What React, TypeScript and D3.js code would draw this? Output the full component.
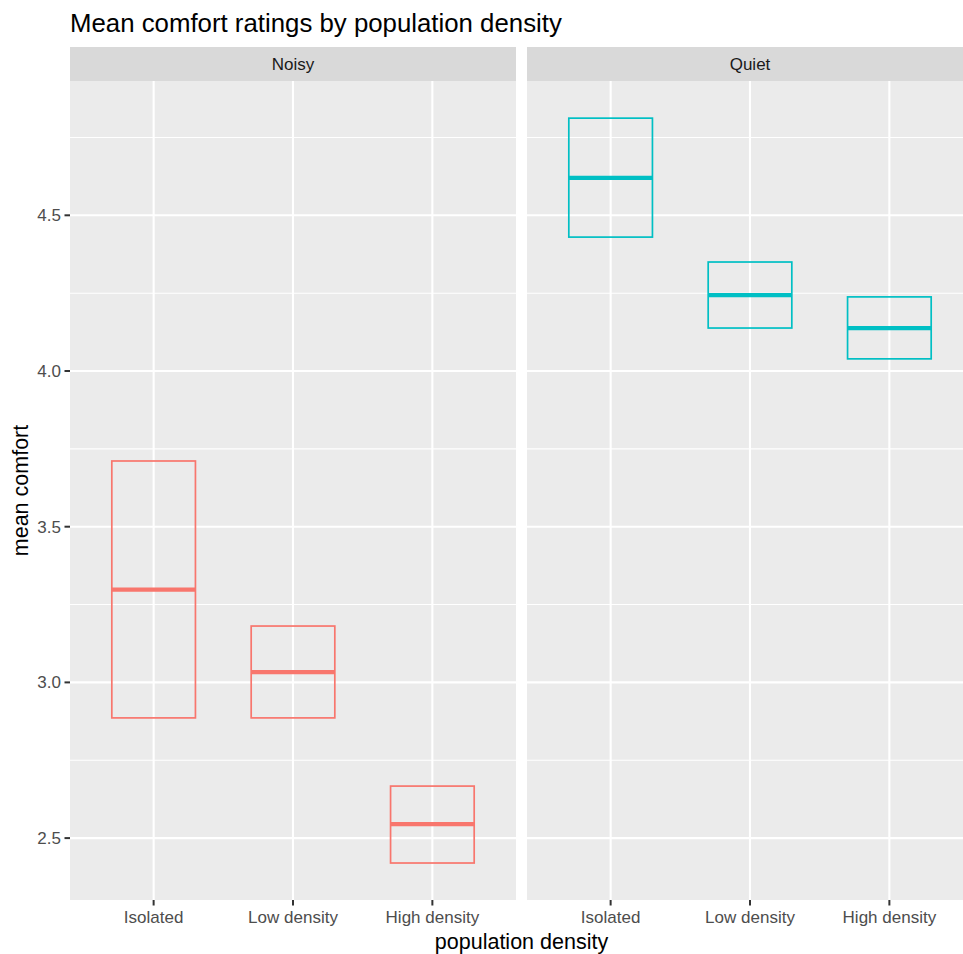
import React from "react";
import * as d3 from "d3";

const conditions = ["Noisy", "Quiet"];
const densities = ["Isolated", "Low density", "High density"];
const noisyMean = [3.298, 3.033, 2.545];
const noisyLower = [2.886, 2.886, 2.42];
const noisyUpper = [3.711, 3.181, 2.667];
const quietMean = [4.62, 4.244, 4.138];
const quietLower = [4.43, 4.138, 4.039];
const quietUpper = [4.812, 4.35, 4.238];
const colors = ["#F8766D", "#00BFC4"];
const yMajor = [2.5, 3.0, 3.5, 4.0, 4.5];
const yMinor = [2.75, 3.25, 3.75, 4.25, 4.75];

const W = 963;
const H = 954;
const FONT = "'Liberation Sans', Arial, Helvetica, sans-serif";

export default function App() {
  const panelTop = 81;
  const panelBottom = 900;
  const stripTop = 47;
  const panelW = 446;
  const panelLeft = [70, 527];
  const y = d3.scaleLinear().domain([2.3012, 4.9313]).range([panelBottom, panelTop]);
  const series = [
    { mean: noisyMean, lo: noisyLower, hi: noisyUpper },
    { mean: quietMean, lo: quietLower, hi: quietUpper },
  ];
  return (
    <svg width={W} height={H} style={{ position: "absolute", left: 0, top: 0, background: "#fff" }} fontFamily={FONT}>
      <text x={70} y={31.5} fontSize={25.8} fill="#000">Mean comfort ratings by population density</text>
      {conditions.map((c, pi) => {
        const x0 = panelLeft[pi];
        const x = d3.scalePoint<string>().domain(densities).range([x0, x0 + panelW]).padding(0.6);
        const bw = x.step() * 0.6;
        const s = series[pi];
        return (
          <g key={c}>
            <rect x={x0} y={stripTop} width={panelW} height={panelTop - stripTop} fill="#D9D9D9" />
            <text x={x0 + panelW / 2} y={69.5} textAnchor="middle" fontSize={17} fill="#1A1A1A">{c}</text>
            <rect x={x0} y={panelTop} width={panelW} height={panelBottom - panelTop} fill="#EBEBEB" />
            {yMinor.map((v) => (
              <line key={"mi" + v} x1={x0} x2={x0 + panelW} y1={y(v)} y2={y(v)} stroke="#fff" strokeWidth={1.05} />
            ))}
            {yMajor.map((v) => (
              <line key={"ma" + v} x1={x0} x2={x0 + panelW} y1={y(v)} y2={y(v)} stroke="#fff" strokeWidth={2.1} />
            ))}
            {densities.map((d) => (
              <line key={"vx" + d} x1={x(d)!} x2={x(d)!} y1={panelTop} y2={panelBottom} stroke="#fff" strokeWidth={2.1} />
            ))}
            {densities.map((d, i) => (
              <g key={"box" + d}>
                <rect x={x(d)! - bw / 2} y={y(s.hi[i])} width={bw} height={y(s.lo[i]) - y(s.hi[i])} fill="none" stroke={colors[pi]} strokeWidth={1.7} />
                <line x1={x(d)! - bw / 2} x2={x(d)! + bw / 2} y1={y(s.mean[i])} y2={y(s.mean[i])} stroke={colors[pi]} strokeWidth={4.25} />
              </g>
            ))}
            {densities.map((d) => (
              <g key={"xt" + d}>
                <line x1={x(d)!} x2={x(d)!} y1={panelBottom} y2={panelBottom + 5.5} stroke="#333" strokeWidth={2} />
                <text x={x(d)!} y={922.7} textAnchor="middle" fontSize={17} fill="#4D4D4D">{d}</text>
              </g>
            ))}
          </g>
        );
      })}
      {yMajor.map((v) => (
        <g key={"yt" + v}>
          <line x1={64.5} x2={70} y1={y(v)} y2={y(v)} stroke="#333" strokeWidth={2} />
          <text x={61} y={y(v) + 6} textAnchor="end" fontSize={17} fill="#4D4D4D">{v.toFixed(1)}</text>
        </g>
      ))}
      <text x={(70 + 973) / 2} y={948.5} textAnchor="middle" fontSize={21.5} fill="#000">population density</text>
      <text transform={`translate(27.5, ${(panelTop + panelBottom) / 2}) rotate(-90)`} textAnchor="middle" fontSize={21.5} fill="#000">mean comfort</text>
    </svg>
  );
}
